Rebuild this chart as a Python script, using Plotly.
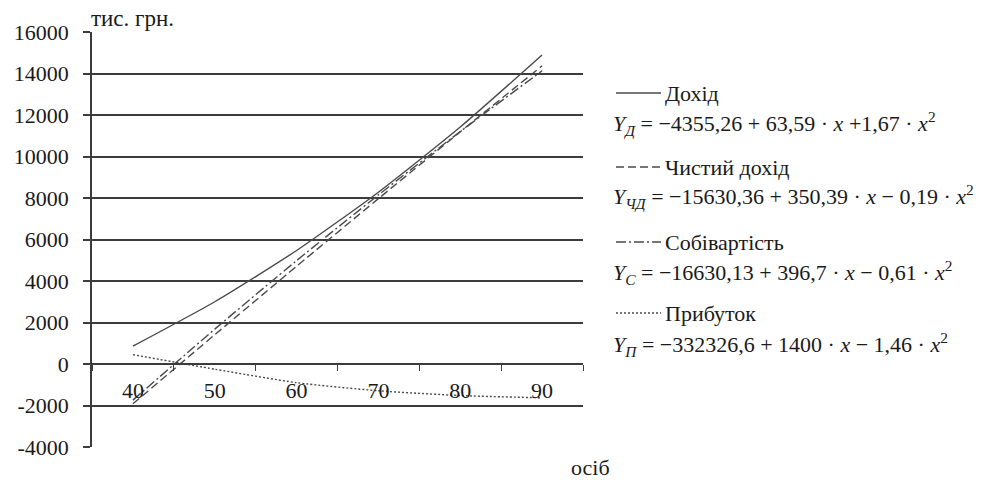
import plotly.graph_objects as go

# Number of persons (category axis)
categories = ["40", "50", "60", "70", "80", "90"]

# Values, thousand UAH
dokhid = [860, 3000, 5470, 8280, 11420, 14890]
chystyi_dokhid = [-1920, 1410, 4710, 7970, 11190, 14370]
sobivartist = [-1740, 1680, 4980, 8150, 11200, 14130]
prybutok = [450, -250, -900, -1290, -1520, -1630]

# Value axis ticks
y_ticks = [-4000, -2000, 0, 2000, 4000, 6000, 8000, 10000, 12000, 14000, 16000]
y_tick_labels = ["-4000", "-2000", "0", "2000", "4000", "6000", "8000",
                 "10000", "12000", "14000", "16000"]

series_names = ["Дохід", "Чистий дохід", "Собівартість", "Прибуток"]
formulas = [
    "<i>Y</i><sub><i>Д</i></sub> = −4355,26 + 63,59 · <i>x</i> +1,67 · <i>x</i><sup>2</sup>",
    "<i>Y</i><sub><i>ЧД</i></sub> = −15630,36 + 350,39 · <i>x</i> − 0,19 · <i>x</i><sup>2</sup>",
    "<i>Y</i><sub><i>С</i></sub> = −16630,13 + 396,7 · <i>x</i> − 0,61 · <i>x</i><sup>2</sup>",
    "<i>Y</i><sub><i>П</i></sub> = −332326,6 + 1400 · <i>x</i> − 1,46 · <i>x</i><sup>2</sup>",
]

W, H = 989, 481
L, R, T, B = 92, 583, 32, 447  # plot area in pixels
FONT = "Liberation Serif"
TXT = "#1a1a1a"
LINE = "#4a4a4a"
GRID = "#3c3c3c"

dashes = ["solid", "8px,4px", "10px,3px,2px,3px", "2px,2px"]
values = [dokhid, chystyi_dokhid, sobivartist, prybutok]


def px_x(px):
    return (px - L) / (R - L)


def px_y(py):
    return (B - py) / (B - T)


fig = go.Figure()
for name, vals, dash in zip(series_names, values, dashes):
    fig.add_trace(go.Scatter(
        x=categories, y=vals, name=name, mode="lines",
        line=dict(color=LINE, width=1.4, dash=dash, shape="spline", smoothing=0.6),
        showlegend=False,
    ))

# Legend block: sample line, series name, regression formula
rows_title = [93, 167, 242, 313]
rows_formula = [124, 196, 272, 344]
shapes = []
annotations = []
for i, name in enumerate(series_names):
    shapes.append(dict(
        type="line", xref="paper", yref="paper",
        x0=px_x(616), x1=px_x(661), y0=px_y(rows_title[i]), y1=px_y(rows_title[i]),
        line=dict(color=LINE, width=1.4, dash=dashes[i]),
    ))
    annotations.append(dict(
        text=name, xref="paper", yref="paper", x=px_x(663), y=px_y(rows_title[i]),
        xanchor="left", yanchor="middle", showarrow=False,
        font=dict(family=FONT, size=22, color=TXT),
    ))
    annotations.append(dict(
        text=formulas[i], xref="paper", yref="paper", x=px_x(611), y=px_y(rows_formula[i]),
        xanchor="left", yanchor="middle", showarrow=False,
        font=dict(family=FONT, size=22, color=TXT),
    ))

annotations.append(dict(
    text="тис. грн.", xref="paper", yref="paper", x=px_x(89), y=px_y(19),
    xanchor="left", yanchor="middle", showarrow=False,
    font=dict(family=FONT, size=23, color=TXT),
))
annotations.append(dict(
    text="осіб", xref="paper", yref="paper", x=px_x(590), y=px_y(467),
    xanchor="center", yanchor="middle", showarrow=False,
    font=dict(family=FONT, size=22, color=TXT),
))

fig.update_layout(
    width=W, height=H,
    margin=dict(l=L, r=W - R, t=T, b=H - B, pad=0),
    paper_bgcolor="white", plot_bgcolor="white",
    font=dict(family=FONT, size=22, color=TXT),
    shapes=shapes, annotations=annotations,
    xaxis=dict(
        type="category", range=[-0.5, 5.5], anchor="free", position=0.2,
        showline=True, linecolor=GRID, linewidth=1.5,
        ticks="outside", tickson="boundaries", ticklen=6, tickwidth=1.2, tickcolor=GRID,
        showgrid=False, zeroline=False, ticklabelstandoff=7,
        tickfont=dict(family=FONT, size=22, color=TXT),
    ),
    yaxis=dict(
        range=[-4000, 16000], tickmode="array", tickvals=y_ticks, ticktext=y_tick_labels,
        showline=True, linecolor=GRID, linewidth=1.5,
        ticks="outside", ticklen=7, tickwidth=1.5, tickcolor=GRID,
        showgrid=True, gridcolor=GRID, gridwidth=1.5, zeroline=False,
        ticklabelstandoff=10,
        tickfont=dict(family=FONT, size=22, color=TXT),
    ),
)

fig.write_html("out.html")
